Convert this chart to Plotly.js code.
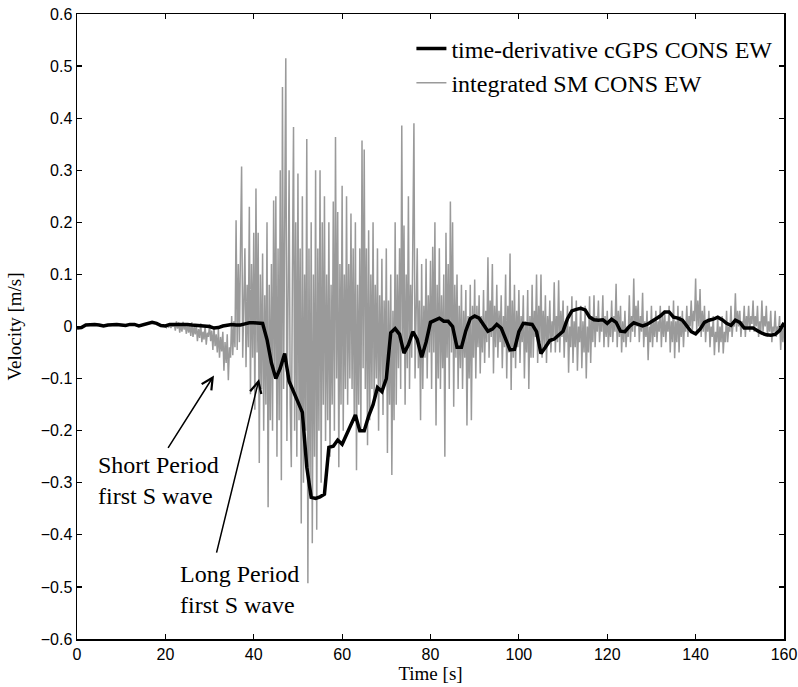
<!DOCTYPE html>
<html>
<head>
<meta charset="utf-8">
<script src="https://cdn.plot.ly/plotly-3.0.1.min.js"></script>
<style>html,body{margin:0;padding:0;background:#fff;}#chart{width:798px;height:687px;}</style>
</head>
<body>
<div id="chart"></div>
<script>
// time-derivative cGPS CONS EW, 1 s samples from 0 to 160 s
const gpsStart = 0;
const gpsStep = 1;
const gpsVel = [
 -0.003,-0.002,0.003,0.004,0.004,0.003,0.001,0.003,0.004,0.004,
 0.003,0.002,0.004,0.004,0.001,0.003,0.006,0.008,0.006,0.002,
 0.001,0.004,0.004,0.004,0.005,0.004,0.003,0.002,0.002,0.001,
 0.000,-0.003,-0.002,0.001,0.003,0.004,0.003,0.003,0.005,0.007,
 0.007,0.007,0.006,-0.025,-0.070,-0.100,-0.080,-0.052,-0.105,-0.125,
 -0.145,-0.165,-0.270,-0.328,-0.330,-0.327,-0.322,-0.232,-0.230,-0.218,
 -0.226,-0.207,-0.190,-0.170,-0.200,-0.200,-0.172,-0.150,-0.117,-0.125,
 -0.100,-0.012,-0.004,-0.015,-0.051,-0.035,-0.010,-0.025,-0.059,-0.030,
 0.008,0.012,0.016,0.010,0.010,0.000,-0.040,-0.040,-0.008,0.015,
 0.020,0.016,0.003,-0.009,-0.005,0.004,-0.003,-0.025,-0.045,-0.044,
 -0.010,0.006,0.005,0.004,-0.010,-0.052,-0.040,-0.027,-0.024,-0.016,
 -0.009,0.015,0.030,0.033,0.035,0.032,0.018,0.013,0.012,0.013,
 0.006,0.014,0.008,-0.009,-0.010,0.000,0.007,0.004,0.001,0.004,
 0.009,0.014,0.020,0.028,0.028,0.018,0.016,0.012,0.000,-0.010,
 -0.014,-0.005,0.008,0.012,0.014,0.018,0.013,0.006,0.002,0.012,
 0.008,-0.003,-0.003,-0.003,-0.008,-0.013,-0.016,-0.017,-0.015,-0.008,
 0.007
];

// integrated SM CONS EW, 0.25 s samples from 20 to 160 s
const smStart = 20;
const smStep = 0.25;
const smVel = [
 0.001,-0.002,0.002,-0.001, 0.002,-0.003,0.003,0.000, 0.006,-0.008,0.010,-0.004, 0.008,-0.012,0.005,-0.010, 0.009,-0.006,0.004,-0.014,
 0.006,-0.012,0.002,-0.018, 0.008,-0.020,0.000,-0.015, 0.004,-0.028,-0.005,-0.022, 0.006,-0.030,-0.010,-0.025, 0.002,-0.035,-0.012,-0.020,
 0.004,-0.028,-0.008,-0.045, 0.000,-0.038,-0.015,-0.050, -0.005,-0.060,-0.020,-0.048, -0.010,-0.085,-0.030,-0.070, -0.015,-0.103,-0.040,-0.060,
 0.020,-0.055,0.010,-0.040, 0.204,-0.045,0.120,-0.030, 0.150,0.307,-0.060,0.050, 0.150,-0.078,0.080,-0.040, 0.230,-0.130,0.120,-0.060,
 0.180,-0.160,0.265,-0.050, 0.180,-0.262,0.100,-0.120, 0.140,-0.200,0.060,-0.150, 0.200,-0.347,0.080,-0.180, 0.120,-0.200,0.242,-0.100,
 0.250,-0.250,0.150,-0.180, 0.300,-0.295,0.460,-0.120, 0.200,0.515,-0.220,0.150, 0.300,-0.150,-0.270,0.100, 0.383,-0.200,0.200,-0.250,
 0.294,-0.180,0.150,-0.378, 0.250,-0.300,0.100,-0.200, 0.360,-0.493,0.150,-0.300, 0.200,-0.416,0.100,-0.250, 0.300,-0.390,0.150,-0.200,
 0.300,-0.300,0.200,-0.150, 0.250,-0.220,0.100,-0.180, 0.200,-0.250,0.080,-0.150, 0.240,-0.200,0.364,-0.100, 0.220,-0.270,0.120,-0.150,
 0.270,-0.200,0.100,-0.120, 0.250,-0.150,0.120,-0.100, 0.217,-0.120,0.150,-0.180, 0.200,-0.276,0.080,-0.150, 0.150,-0.200,0.357,-0.080,
 0.340,-0.120,0.150,-0.228, 0.185,-0.180,0.100,-0.120, 0.200,-0.150,0.080,-0.100, 0.150,-0.200,0.060,-0.120, 0.130,-0.170,0.050,-0.100,
 0.150,-0.243,0.050,-0.150, 0.100,-0.285,0.030,-0.180, 0.200,-0.150,0.100,-0.080, 0.150,-0.120,0.386,-0.050, 0.194,-0.150,0.100,-0.080,
 0.250,-0.120,0.080,-0.060, 0.150,0.390,-0.100,0.050, 0.150,-0.080,0.050,-0.180, 0.120,-0.120,0.040,-0.060, 0.130,-0.100,0.060,-0.050,
 0.126,-0.120,0.153,-0.050, 0.200,-0.190,0.080,-0.100, 0.150,-0.120,0.060,-0.080, 0.100,-0.250,0.180,-0.060, 0.120,-0.120,0.240,-0.050,
 0.200,-0.154,0.080,-0.060, 0.100,-0.120,0.040,-0.080, 0.080,-0.120,0.030,-0.060, 0.070,-0.190,0.020,-0.100, 0.080,-0.180,0.040,-0.060,
 0.090,-0.100,0.040,-0.040, 0.060,-0.090,0.020,-0.050, 0.070,-0.070,0.030,-0.030, 0.133,-0.060,0.050,-0.020, 0.120,-0.090,0.040,-0.040,
 0.080,-0.060,0.030,-0.030, 0.060,-0.080,0.020,-0.040, 0.100,-0.100,0.040,-0.050, 0.140,-0.122,0.050,-0.060, 0.080,-0.080,0.030,-0.040,
 0.070,-0.070,0.020,-0.030, 0.060,-0.100,0.010,-0.050, 0.070,-0.120,0.020,-0.060, 0.080,-0.060,0.030,-0.020, 0.100,-0.070,0.040,-0.030,
 0.100,-0.060,0.030,-0.040, 0.060,-0.070,0.020,-0.030, 0.050,-0.050,0.010,-0.020, 0.085,-0.050,0.020,-0.030, 0.089,-0.050,0.030,-0.020,
 0.050,-0.060,0.010,-0.030, 0.040,-0.089,0.000,-0.040, 0.058,-0.070,0.010,-0.040, 0.050,-0.085,0.000,-0.030, 0.040,-0.080,0.010,-0.050,
 0.040,-0.100,0.000,-0.050, 0.058,-0.070,0.020,-0.030, 0.060,-0.040,0.020,-0.010, 0.050,-0.030,0.010,-0.010, 0.060,-0.040,0.020,-0.020,
 0.030,-0.040,0.010,-0.020, 0.050,-0.030,0.020,-0.010, 0.082,-0.040,0.030,-0.020, 0.040,-0.050,0.010,-0.030, 0.030,-0.040,0.000,-0.020,
 0.060,-0.030,0.020,-0.010, 0.092,-0.020,0.040,0.000, 0.050,-0.030,0.020,-0.010, 0.065,-0.040,0.010,-0.020, 0.030,-0.065,0.000,-0.030,
 0.040,-0.040,0.010,-0.020, 0.030,-0.030,0.010,-0.010, 0.040,-0.040,0.020,-0.020, 0.030,-0.030,0.010,-0.010, 0.040,-0.050,0.010,-0.030,
 0.050,-0.061,0.010,-0.030, 0.040,-0.050,0.020,-0.020, 0.030,-0.040,0.010,-0.010, 0.040,-0.020,0.020,0.000, 0.050,-0.010,0.030,0.010,
 0.092,-0.010,0.050,0.000, 0.072,-0.020,0.030,-0.010, 0.040,-0.030,0.010,-0.010, 0.030,-0.040,0.000,-0.020, 0.020,-0.055,-0.010,-0.030,
 0.020,-0.050,0.000,-0.030, 0.020,-0.052,-0.010,-0.030, 0.030,-0.030,0.000,-0.010, 0.040,-0.020,0.010,0.000, 0.064,-0.010,0.030,0.000,
 0.030,-0.020,0.010,0.000, 0.040,-0.020,0.020,0.000, 0.040,-0.010,0.020,0.005, 0.050,-0.010,0.020,0.000, 0.040,-0.020,0.010,-0.010,
 0.050,-0.010,0.020,0.000, 0.040,-0.020,0.010,-0.010, 0.030,-0.030,0.000,-0.010, 0.030,-0.020,0.000,-0.010, 0.020,-0.045,0.000,-0.030,
 0.000
];

const seriesNames = ['time-derivative cGPS CONS EW', 'integrated SM CONS EW'];
const xTicks = [0, 20, 40, 60, 80, 100, 120, 140, 160];
const yTicks = [0.6, 0.5, 0.4, 0.3, 0.2, 0.1, 0, -0.1, -0.2, -0.3, -0.4, -0.5, -0.6];
const yTickText = ['0.6','0.5','0.4','0.3','0.2','0.1','0','\u22120.1','\u22120.2','\u22120.3','\u22120.4','\u22120.5','\u22120.6'];

// annotation labels: [text, x, y]
const labels = [
  ['Short Period<br>first S wave', 4.3, -0.295],
  ['Long Period<br>first S wave', 22.9, -0.504]
];
// arrows: [tipX, tipY, tailX, tailY]
const arrows = [
  [31.0, -0.094, 20.4, -0.236],
  [41.2, -0.101, 31.5, -0.437]
];

const gpsT = gpsVel.map((_, i) => gpsStart + i * gpsStep);
const smT = smVel.map((_, i) => smStart + i * smStep);

const serif = 'Liberation Serif, Times New Roman, serif';
const sans = 'Liberation Sans, Arial, Helvetica, sans-serif';

const traces = [
  {x: smT, y: smVel, type: 'scatter', mode: 'lines', name: seriesNames[1],
   line: {color: '#9a9a9a', width: 1.5}, legendrank: 2},
  {x: gpsT, y: gpsVel, type: 'scatter', mode: 'lines', name: seriesNames[0],
   line: {color: '#000000', width: 3.5}, legendrank: 1}
];

const annotations = [];
labels.forEach(l => annotations.push({
  text: l[0], x: l[1], y: l[2], xref: 'x', yref: 'y', showarrow: false,
  xanchor: 'left', yanchor: 'middle', align: 'left',
  font: {family: serif, size: 24, color: '#000'}
}));
arrows.forEach(a => annotations.push({
  text: '', x: a[0], y: a[1], ax: a[2], ay: a[3], axref: 'x', ayref: 'y',
  xref: 'x', yref: 'y', showarrow: true, arrowhead: 5, arrowsize: 1.5,
  arrowwidth: 1.5, arrowcolor: '#000', standoff: 0
}));

const axisCommon = {
  showgrid: false, zeroline: false, showline: true, linecolor: '#000', linewidth: 1.5,
  mirror: 'allticks', ticks: 'inside', ticklen: 5, tickwidth: 1.2, tickcolor: '#000',
  tickfont: {family: sans, size: 16, color: '#000'}, automargin: false
};

const layout = {
  width: 798, height: 687,
  margin: {l: 77, r: 14, t: 14, b: 48},
  paper_bgcolor: '#fff', plot_bgcolor: '#fff',
  xaxis: Object.assign({}, axisCommon, {
    range: [0, 160], tickvals: xTicks, ticktext: xTicks.map(String),
    title: {text: 'Time [s]', font: {family: serif, size: 19, color: '#000'}, standoff: 4}
  }),
  yaxis: Object.assign({}, axisCommon, {
    range: [-0.6, 0.6], tickvals: yTicks, ticktext: yTickText,
    title: {text: 'Velocity [m/s]', font: {family: serif, size: 19, color: '#000'}, standoff: 14}
  }),
  showlegend: true,
  legend: {x: 0.473, y: 0.98, xanchor: 'left', yanchor: 'top', bgcolor: 'rgba(0,0,0,0)',
           borderwidth: 0, font: {family: serif, size: 24, color: '#000'}, tracegroupgap: 0},
  annotations: annotations
};

Plotly.newPlot('chart', traces, layout, {displayModeBar: false, staticPlot: true});
</script>
</body>
</html>
